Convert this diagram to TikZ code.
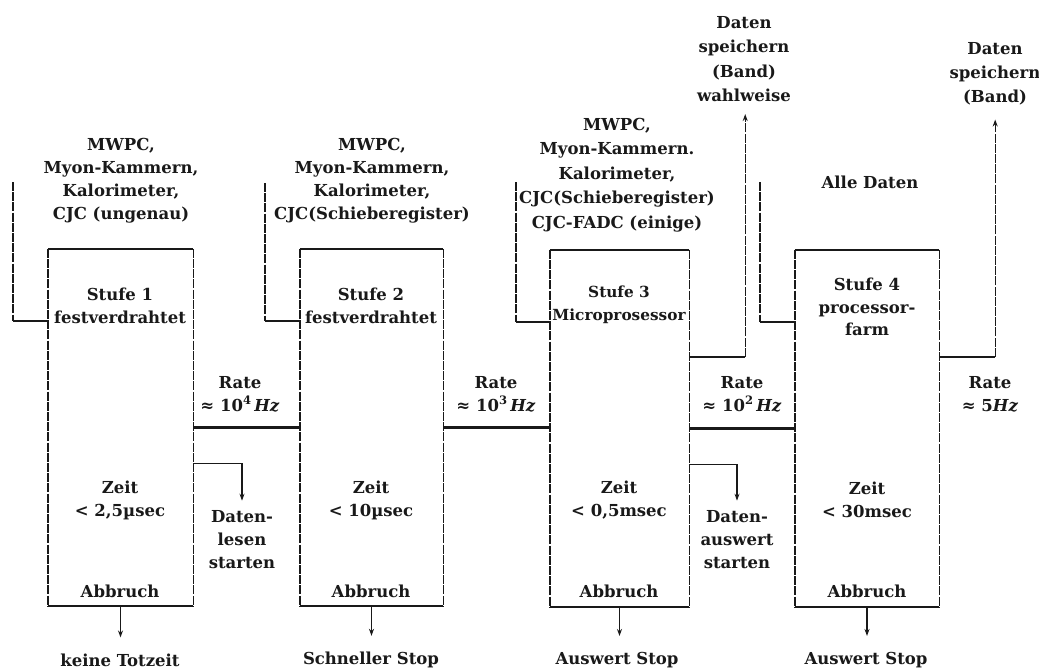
\documentclass[tikz,border=0pt]{standalone}
\usepackage{fontspec}
\setmainfont{DejaVu Serif}
\usetikzlibrary{arrows.meta,calc}
\begin{document}
\begin{tikzpicture}[x=1pt,y=-1pt,
  lbl/.style={font=\bfseries\fontsize{16.5}{23}\selectfont, align=center, inner sep=0pt, text=black!90},
  stagebox/.style={draw=none, inner sep=0pt, minimum width=#1, minimum height=357pt},
  hline/.style={line width=2.4pt, draw=black!90},
  vline/.style={line width=1.4pt, draw=black!90, dash pattern=on 9pt off 1.2pt},
  arr/.style={line width=1.2pt, draw=black!90, -{Stealth[length=7pt,width=5pt]}},
  varr/.style={line width=1.4pt, draw=black!90, dash pattern=on 9pt off 1.2pt, -{Stealth[length=7pt,width=5pt]}}
]
\useasboundingbox (0,0) rectangle (1039,672);
\fill[white] (0,0) rectangle (1039,672);

% stage boxes
\node[stagebox=145pt] (b1) at (120.5,427.5) {};
\node[stagebox=143pt] (b2) at (371.5,427.5) {};
\node[stagebox=139pt] (b3) at (619.5,428.5) {};
\node[stagebox=144pt] (b4) at (867,428.5) {};

\foreach \b in {b1,b2,b3,b4}{
  \draw[hline] (\b.north west) -- (\b.north east);
  \draw[hline] (\b.south west) -- (\b.south east);
  \draw[vline] (\b.north west) -- (\b.south west);
  \draw[vline] (\b.north east) -- (\b.south east);
}

% input brackets
\coordinate (k1t) at (13,182);  \coordinate (k1b) at (13,321);
\coordinate (k2t) at (265,183); \coordinate (k2b) at (265,321);
\coordinate (k3t) at (516,182); \coordinate (k3b) at (516,322);
\coordinate (k4t) at (760,182); \coordinate (k4b) at (760,322);
\foreach \k/\b in {1/b1,2/b2,3/b3,4/b4}{
  \draw[vline] (k\k t) -- (k\k b);
  \draw[hline] (k\k b) -- (k\k b -| \b.west);
}

% detector labels
\node[lbl] (in1) at (121,181) {MWPC,\\Myon-Kammern,\\Kalorimeter,\\CJC (ungenau)};
\node[lbl] (in2) at (372,181) {MWPC,\\Myon-Kammern,\\Kalorimeter,\\CJC(Schieberegister)};
\node[lbl, font=\bfseries\fontsize{16.5}{24.5}\selectfont] (in3) at (617,175) {MWPC,\\Myon-Kammern.\\Kalorimeter,\\CJC(Schieberegister)\\CJC-FADC (einige)};
\node[lbl] (in4) at (870,182) {Alle Daten};

% stage texts
\node[lbl] (st1) at (120,306) {Stufe 1\\festverdrahtet};
\node[lbl] (st2) at (371,306) {Stufe 2\\festverdrahtet};
\node[lbl, font=\bfseries\fontsize{15.3}{23}\selectfont] (st3) at (619,305) {Stufe 3\\Microprosessor};
\node[lbl, font=\bfseries\fontsize{16.5}{22.5}\selectfont] (st4) at (867,307) {Stufe 4\\processor-\\farm};

\node[lbl] (z1) at (120,500) {Zeit\\< 2,5µsec};
\node[lbl] (z2) at (371,500) {Zeit\\< 10µsec};
\node[lbl] (z3) at (619,500) {Zeit\\< 0,5msec};
\node[lbl] (z4) at (867,500) {Zeit\\< 30msec};

\node[lbl] (a1) at (120,591) {Abbruch};
\node[lbl] (a2) at (371,591) {Abbruch};
\node[lbl] (a3) at (619,591) {Abbruch};
\node[lbl] (a4) at (867,591) {Abbruch};

% rates
\node[lbl] (r1) at (240,394) {Rate\\≈ 10\textsuperscript{4}\,\textit{Hz}};
\node[lbl] (r2) at (496,394) {Rate\\≈ 10\textsuperscript{3}\,\textit{Hz}};
\node[lbl] (r3) at (742,394) {Rate\\≈ 10\textsuperscript{2}\,\textit{Hz}};
\node[lbl] (r4) at (990,394) {Rate\\≈ 5\textit{Hz}};

\draw[hline] (b1.east) -- (b1.east -| b2.west);
\draw[hline] (b2.east) -- (b2.east -| b3.west);
\draw[hline] (b3.east) -- (b3.east -| b4.west);

% start readout arrows
\node[lbl] (dl) at (242,540) {Daten-\\lesen\\starten};
\node[lbl] (da) at (737,540) {Daten-\\auswert\\starten};
\draw[arr] ($(b1.east)+(0,36)$) -| ([yshift=10pt]dl.north);
\draw[arr] ($(b3.east)+(0,36)$) -| ([yshift=10pt]da.north);

% storage arrows
\node[lbl, font=\bfseries\fontsize{16.5}{24.5}\selectfont] (ds1) at (744,59) {Daten\\speichern\\(Band)\\wahlweise};
\node[lbl, font=\bfseries\fontsize{16.5}{24}\selectfont] (ds2) at (995,74) {Daten\\speichern\\(Band)};
\draw[hline] ($(b3.north east)+(0,107)$) -- ($(b3.north east)+(56,107)$) coordinate (c3);
\draw[varr] (c3) -- ([yshift=-12pt]ds1.south -| c3);
\draw[hline] ($(b4.north east)+(0,107)$) -- ($(b4.north east)+(56,107)$) coordinate (c4);
\draw[varr] (c4) -- ([yshift=-14pt]ds2.south -| c4);

% abort arrows
\node[lbl] (o1) at (120,660) {keine Totzeit};
\node[lbl] (o2) at (371,660) {Schneller Stop};
\node[lbl] (o3) at (617,660) {Auswert Stop};
\node[lbl] (o4) at (866,660) {Auswert Stop};
\draw[arr] (b1.south) -- ([yshift=16pt]b1.south |- o1.north);
\draw[arr] (b2.south) -- ([yshift=16pt]b2.south |- o2.north);
\draw[arr] (b3.south) -- ([yshift=16pt]b3.south |- o3.north);
\draw[arr] (b4.south) -- ([yshift=16pt]b4.south |- o4.north);
\end{tikzpicture}
\end{document}
